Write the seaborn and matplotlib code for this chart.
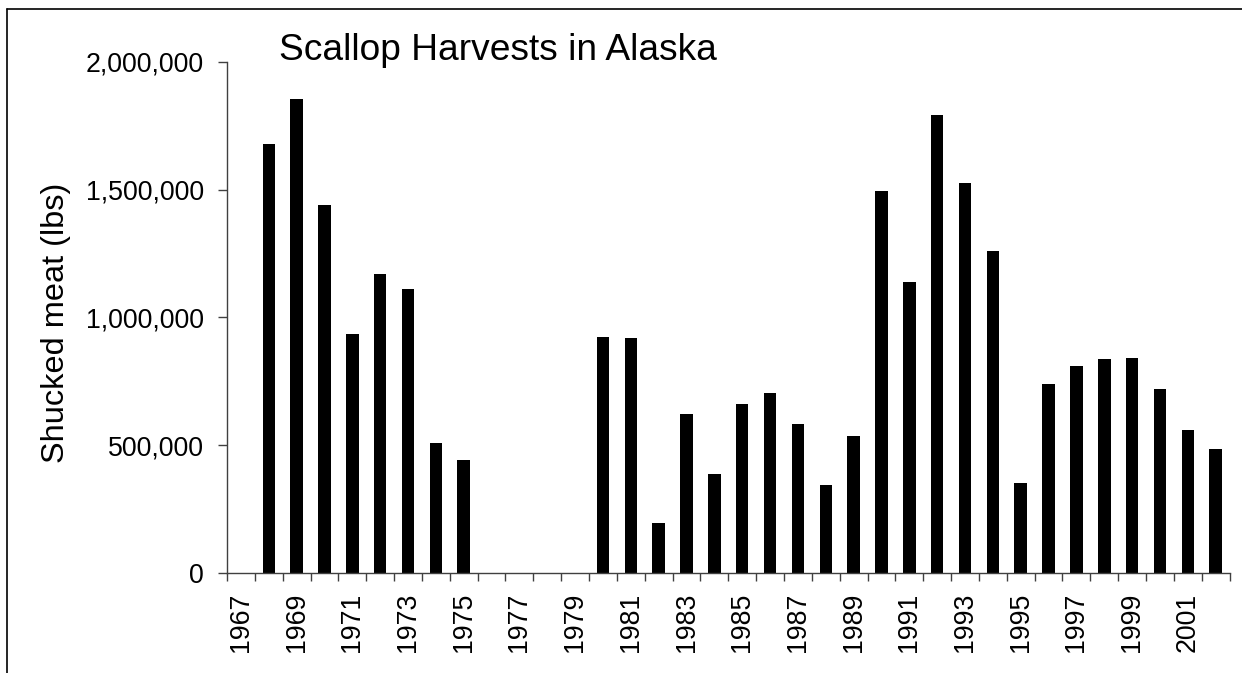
import numpy as np
import pandas as pd
import matplotlib
matplotlib.use("Agg")
import matplotlib.pyplot as plt
import seaborn as sns
from matplotlib.lines import Line2D
from matplotlib.ticker import FuncFormatter

# harvest per year, shucked meat in lbs
years = list(range(1967, 2003))
harvest = [0, 1678000, 1854000, 1441000, 934000, 1171000, 1112000, 507000,
           442000, 0, 0, 0, 0, 924000, 918000, 197000, 622000, 389000,
           660000, 705000, 583000, 345000, 537000, 1493000, 1137000,
           1790000, 1524000, 1261000, 351000, 738000, 810000, 836000,
           842000, 719000, 558000, 486000]
label_years = [str(y) for y in years[::2]]

df = pd.DataFrame({"Year": [str(y) for y in years], "Harvest": harvest})

sns.set_style("white")
plt.rcParams['font.family'] = ['Liberation Sans', 'DejaVu Sans']
plt.rcParams['text.color'] = 'black'

fig = plt.figure(figsize=(12.42, 6.73), dpi=100)
ax = fig.add_axes([227 / 1242, 1 - 573 / 673, 1002.6 / 1242, (573 - 61.7) / 673])

sns.barplot(data=df, x="Year", y="Harvest", color="black", width=0.45,
            saturation=1, edgecolor="black", linewidth=0, ax=ax)

ax.set_ylim(0, 2000000)
ax.set_xlim(-0.5, len(years) - 0.5)
ax.set_yticks([0, 500000, 1000000, 1500000, 2000000])
ax.yaxis.set_major_formatter(FuncFormatter(lambda v, p: f"{int(v):,}"))

# labels every other year at bar centres, tick marks at category edges
ax.set_xticks(np.arange(0, len(years), 2))
ax.set_xticklabels(label_years, rotation=90)
ax.set_xticks(np.arange(-0.5, len(years), 1), minor=True)
ax.tick_params(axis="x", which="major", length=0, pad=14, labelsize=19.3,
               labelcolor="black")
ax.tick_params(axis="x", which="minor", length=6, width=1, color="#404040",
               direction="out", bottom=True)
ax.tick_params(axis="y", length=6.5, width=1, color="#404040", direction="out",
               left=True, pad=10, labelsize=19.3, labelcolor="black")

ax.set_xlabel("")
ax.set_ylabel("")
for s in ["top", "right"]:
    ax.spines[s].set_visible(False)
for s in ["left", "bottom"]:
    ax.spines[s].set_color("#404040")
    ax.spines[s].set_linewidth(1)

fig.text(279 / 1242, 1 - 50 / 673, "Scallop Harvests in Alaska", fontsize=26.7,
         ha="left", va="center", color="black")
fig.text(56 / 1242, 1 - 323 / 673, "Shucked meat (lbs)", fontsize=23.4,
         rotation=90, ha="center", va="center", color="black")

# outer frame lines (top and left)
fig.add_artist(Line2D([7 / 1242, 1], [1 - 9 / 673, 1 - 9 / 673], color="black", lw=1.2))
fig.add_artist(Line2D([7 / 1242, 7 / 1242], [0, 1 - 9 / 673], color="black", lw=1.2))

fig.savefig("out.png", dpi=100)
